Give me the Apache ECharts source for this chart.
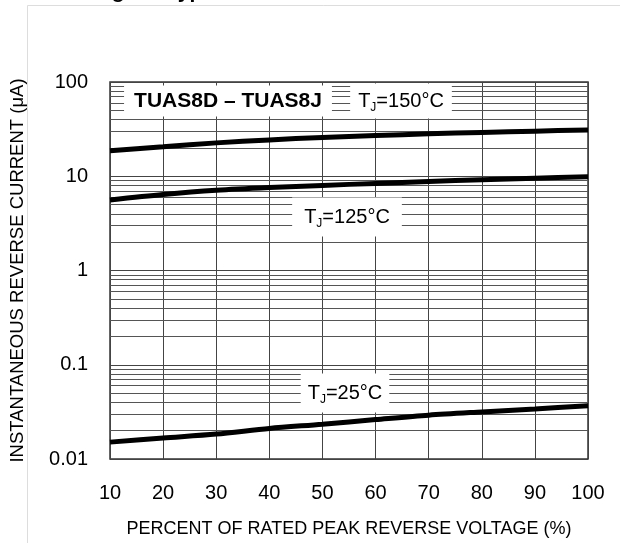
<!DOCTYPE html>
<html>
<head>
<meta charset="utf-8">
<script src="https://cdn.jsdelivr.net/npm/echarts@6/dist/echarts.min.js"></script>
<style>
html,body{margin:0;padding:0;background:#fff;}
#main{width:620px;height:543px;}
</style>
</head>
<body>
<div id="main"></div>
<script>
// Data
const voltagePct = [10, 20, 30, 40, 50, 60, 70, 80, 90, 100];
const current150 = [18.6, 20.5, 22.6, 24.3, 25.8, 27.0, 28.2, 29.2, 30.1, 31.0];
const current125 = [5.6, 6.4, 7.1, 7.6, 8.0, 8.4, 8.8, 9.2, 9.55, 9.9];
const current25 = [0.0151, 0.0167, 0.0184, 0.0211, 0.0234, 0.0262, 0.0292, 0.0316, 0.034, 0.0367];
const yTickLabels = {0.01: '0.01', 0.1: '0.1', 1: '1', 10: '10', 100: '100'};
const decades = [0.01, 0.1, 1, 10];
const minorMultipliers = [2, 3, 4, 5, 6, 7, 8, 9];

const FONT = "'Liberation Sans', Arial, Helvetica, sans-serif";

function pairs(ys) { return voltagePct.map((x, i) => [x, ys[i]]); }

const minorLines = [];
decades.forEach(d => minorMultipliers.forEach(m => minorLines.push({ yAxis: +(d * m).toPrecision(3) })));

const chart = echarts.init(document.getElementById('main'), null, { renderer: 'canvas' });

const curveStyle = { color: '#000', width: 5 };

const option = {
  backgroundColor: '#fff',
  animation: false,
  title: {
    text: 'Fig. 4 - Typical Reverse Characteristics',
    left: 88,
    top: -23,
    textStyle: { fontFamily: FONT, fontSize: 21, fontWeight: 'bold', color: '#000' }
  },
  grid: {
    left: 110, right: 32, top: 82, bottom: 83,
    show: true, borderColor: '#333', borderWidth: 1.5, backgroundColor: 'transparent'
  },
  xAxis: {
    type: 'value', min: 10, max: 100, interval: 10,
    name: 'PERCENT OF RATED PEAK REVERSE VOLTAGE (%)',
    nameLocation: 'middle', nameGap: 61,
    nameTextStyle: { fontFamily: FONT, fontSize: 18, color: '#000' },
    axisLine: { show: false },
    axisTick: { show: false },
    axisLabel: { fontFamily: FONT, fontSize: 20, color: '#000', margin: 24 },
    splitLine: { show: true, lineStyle: { color: '#444', width: 1 } }
  },
  yAxis: {
    type: 'log', logBase: 10, min: 0.01, max: 100,
    name: 'INSTANTANEOUS REVERSE CURRENT (\u03bcA)',
    nameLocation: 'middle', nameGap: 83,
    nameTextStyle: { fontFamily: FONT, fontSize: 18.5, color: '#000' },
    axisLine: { show: false },
    axisTick: { show: false },
    axisLabel: {
      fontFamily: FONT, fontSize: 20, color: '#000', margin: 22,
      formatter: v => yTickLabels[+(+v).toPrecision(3)] || ''
    },
    splitLine: { show: true, lineStyle: { color: '#444', width: 1 } }
  },
  series: [
    {
      name: 'minor', type: 'line', data: [], silent: true,
      markLine: {
        silent: true, symbol: 'none', animation: false,
        label: { show: false },
        lineStyle: { color: '#555', width: 1, type: 'solid' },
        data: minorLines
      }
    },
    { name: 'TJ=150°C', type: 'line', data: pairs(current150), smooth: 0.3, showSymbol: false, lineStyle: curveStyle, z: 5 },
    { name: 'TJ=125°C', type: 'line', data: pairs(current125), smooth: 0.3, showSymbol: false, lineStyle: curveStyle, z: 5 },
    { name: 'TJ=25°C', type: 'line', data: pairs(current25), smooth: 0.3, showSymbol: false, lineStyle: curveStyle, z: 5 }
  ],
  graphic: [
    { type: 'line', shape: { x1: 27.5, y1: 5.5, x2: 27.5, y2: 543 }, style: { stroke: '#ddd', lineWidth: 1 }, silent: true },
    { type: 'line', shape: { x1: 27.5, y1: 5.5, x2: 620, y2: 5.5 }, style: { stroke: '#ddd', lineWidth: 1 }, silent: true }
  ]
};

chart.setOption(option);

function tjLabel(temp, cx, cy, padH, padV) {
  return {
    type: 'text', z: 100, x: cx, y: cy,
    style: {
      text: '{t|T}{s|J}{t|=' + temp + '\u00b0C}',
      align: 'center', verticalAlign: 'middle',
      backgroundColor: '#fff',
      padding: [padV, padH, padV, padH],
      rich: {
        t: { fontFamily: FONT, fontSize: 20, fill: '#000', verticalAlign: 'middle' },
        s: { fontFamily: FONT, fontSize: 12, fill: '#000', padding: [13, 0, 0, 0] }
      }
    }
  };
}

chart.setOption({
  graphic: option.graphic.concat([
    {
      type: 'text', z: 100, x: 228, y: 101,
      style: {
        text: 'TUAS8D \u2013 TUAS8J',
        font: 'bold 21px ' + FONT, fill: '#000',
        align: 'center', verticalAlign: 'middle',
        backgroundColor: '#fff', padding: [5, 10, 5, 10]
      }
    },
    tjLabel(150, 401, 101, 8, 5),
    tjLabel(125, 347, 217, 12, 7),
    tjLabel(25, 345, 393, 7, 7)
  ])
});
</script>
</body>
</html>
